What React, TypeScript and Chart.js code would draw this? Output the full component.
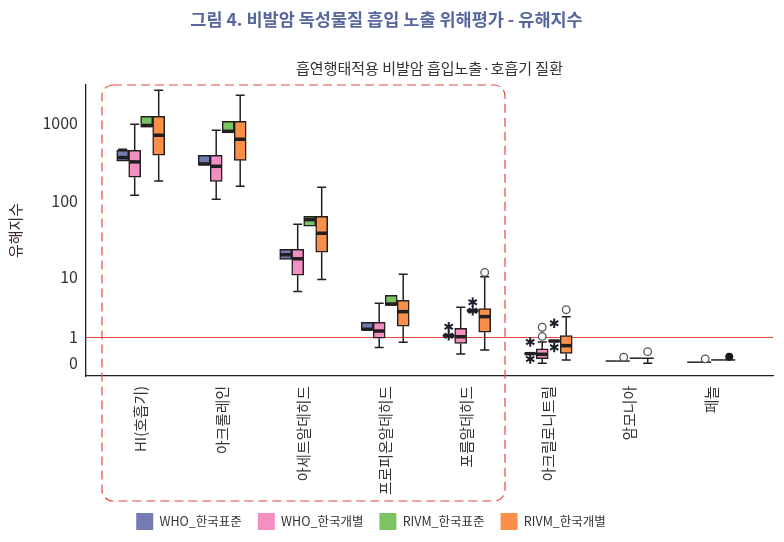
import React, { useEffect, useRef } from 'react';
import { Chart, registerables, Scale } from 'chart.js';

// ---------------- data ----------------
const categories = ['HI(호흡기)', '아크롤레인', '아세트알데히드', '프로피온알데히드', '포름알데히드', '아크릴로니트릴', '암모니아', '페놀'];
const seriesNames = ['WHO_한국표준', 'WHO_한국개별', 'RIVM_한국표준', 'RIVM_한국개별'];
const seriesColors = ['#747ab2', '#f490c1', '#7cc462', '#f98f49'];

// [min, q1, median, q3, max] per category
const whoStandard: (number | null)[][] = [
  [324, 324, 361, 448, 462],
  [288, 288, 299, 387, 387],
  [17.3, 17.3, 19.9, 23.5, 23.5],
  [1.4, 1.4, 1.47, 2.0, 2.0],
  [1.07, 1.07, 1.07, 1.07, 1.07],
  [0.28, 0.28, 0.28, 0.28, 0.28],
  [0.06, 0.06, null, 0.06, 0.06],
  [0.03, 0.03, null, 0.03, 0.03],
];
const whoIndividual: (number | null)[][] = [
  [119, 202, 318, 448, 963],
  [105, 179, 279, 387, 807],
  [6.2, 10.5, 17.6, 23.5, 50],
  [0.51, 0.93, 1.35, 2.0, 4.12],
  [0.27, 0.68, 1.01, 1.54, 3.57],
  [0.0, 0.125, 0.26, 0.45, 0.74],
  [0.06, 0.06, null, 0.06, 0.06],
  [0.03, 0.03, null, 0.03, 0.03],
];
const rivmStandard: (number | null)[][] = [
  [882, 882, 930, 1219, 1219],
  [751, 751, 783, 1051, 1051],
  [47.1, 47.1, 57.4, 63.4, 63.4],
  [3.84, 3.84, 4.02, 5.45, 5.45],
  [3.15, 3.15, 3.15, 3.15, 3.15],
  [0.79, 0.79, 0.79, 0.79, 0.79],
  [0.14, 0.14, null, 0.14, 0.14],
  [0.09, 0.09, null, 0.09, 0.09],
];
const rivmIndividual: (number | null)[][] = [
  [181, 387, 697, 1219, 2619],
  [155, 333, 620, 1051, 2260],
  [9.2, 21.5, 38.2, 63.4, 150],
  [0.73, 1.68, 3.04, 4.58, 10.8],
  [0.41, 1.27, 2.51, 3.4, 10.0],
  [0.09, 0.29, 0.58, 1.07, 2.51],
  [0.0, 0.14, null, 0.14, 0.14],
  [0.09, 0.09, null, 0.09, 0.09],
];

// outliers (circles = outliers, stars = extremes, filled = overlapping outliers)
const whoStandardStars = [[], [], [], [], [1.65, 1.07], [0.74, 0.118], [], []];
const whoIndividualCircles = [[], [], [], [], [], [1.03, 1.61], [0.17], [0.12]];
const rivmStandardStars = [[], [], [], [], [4.28, 3.15], [1.91, 0.51], [], []];
const rivmIndividualCircles = [[], [], [], [], [11.5], [3.27], [0.35], []];
const rivmIndividualFilled = [[], [], [], [], [], [], [], [0.18]];

const yTickValues = [0, 1, 10, 100, 1000];
const referenceValue = 1;
const highlightFrom = 0;
const highlightTo = 4;

const FAMILY = '"Noto Sans CJK KR", "Noto Sans", sans-serif';
const INK = '#231f20';

// -------------- custom scale: log10(v + c) --------------
const OFFSET = 0.85;
const tf = (v: number) => Math.log10(v + OFFSET);

class HazardScale extends Scale {
  static id = 'hazardLog';
  static defaults = {};
  _s = 0;
  _r = 1;
  determineDataLimits() {
    const o: any = this.options;
    this.min = o.min;
    this.max = o.max;
  }
  buildTicks() {
    return yTickValues.map((v) => ({ value: v }));
  }
  getLabelForValue(v: number) {
    return String(v);
  }
  configure() {
    super.configure();
    this._s = tf(this.min);
    this._r = tf(this.max) - tf(this.min);
  }
  getPixelForValue(v: number) {
    if (v === null || v === undefined || isNaN(v)) return NaN;
    return this.getPixelForDecimal((tf(v) - this._s) / this._r);
  }
  getValueForPixel(p: number) {
    return Math.pow(10, this._s + this.getDecimalForPixel(p) * this._r) - OFFSET;
  }
}

Chart.register(...registerables, HazardScale as any);

const statsList = [whoStandard, whoIndividual, rivmStandard, rivmIndividual];
const empty = categories.map(() => [] as number[]);
const starsList = [whoStandardStars, empty, rivmStandardStars, empty];
const circlesList = [empty, whoIndividualCircles, empty, rivmIndividualCircles];
const filledList = [empty, empty, empty, rivmIndividualFilled];

function drawStar(ctx: CanvasRenderingContext2D, x: number, y: number, r: number) {
  ctx.beginPath();
  for (let k = 0; k < 3; k++) {
    const a = Math.PI / 2 + (k * Math.PI) / 3;
    ctx.moveTo(x + r * Math.cos(a), y + r * Math.sin(a));
    ctx.lineTo(x - r * Math.cos(a), y - r * Math.sin(a));
  }
  ctx.stroke();
}

const boxPlugin = {
  id: 'boxDetails',
  afterLayout(chart: any) {
    const lg = chart.legend;
    if (lg) {
      lg.left -= 15.5;
      lg.right -= 15.5;
    }
  },
  beforeDatasetsDraw(chart: any) {
    const { ctx, chartArea, scales } = chart;
    const py = Math.round(scales.y.getPixelForValue(referenceValue)) + 0.5;
    ctx.save();
    ctx.strokeStyle = '#e2473d';
    ctx.lineWidth = 1;
    ctx.beginPath();
    ctx.moveTo(chartArea.left, py);
    ctx.lineTo(chartArea.right, py);
    ctx.stroke();
    ctx.restore();
  },
  afterDatasetsDraw(chart: any) {
    const { ctx, scales } = chart;
    const Y = (v: number) => scales.y.getPixelForValue(v);
    ctx.save();
    statsList.forEach((stats, si) => {
      const meta = chart.getDatasetMeta(si);
      stats.forEach((st, ci) => {
        const bar = meta.data[ci];
        if (!bar) return;
        const cx = bar.x;
        const w = bar.width;
        const [mn, q1, md, q3, mx] = st as number[];
        ctx.strokeStyle = INK;
        ctx.lineWidth = 1.5;
        ctx.beginPath();
        if (mx > q3) {
          ctx.moveTo(cx, Y(q3));
          ctx.lineTo(cx, Y(mx));
          ctx.moveTo(cx - 4.5, Y(mx));
          ctx.lineTo(cx + 4.5, Y(mx));
        }
        if (mn < q1) {
          ctx.moveTo(cx, Y(q1));
          ctx.lineTo(cx, Y(mn));
          ctx.moveTo(cx - 4.5, Y(mn));
          ctx.lineTo(cx + 4.5, Y(mn));
        }
        if (q1 === q3) {
          ctx.moveTo(cx - w / 2, Y(q1));
          ctx.lineTo(cx + w / 2, Y(q1));
        }
        ctx.stroke();
        if (md !== null && md !== undefined) {
          ctx.lineWidth = 3.5;
          ctx.beginPath();
          ctx.moveTo(cx - w / 2 + 0.5, Y(md));
          ctx.lineTo(cx + w / 2 - 0.5, Y(md));
          ctx.stroke();
        }
        // outliers
        ctx.lineWidth = 1.3;
        (circlesList[si][ci] || []).forEach((v: number) => {
          ctx.beginPath();
          ctx.arc(cx, Y(v), 3.8, 0, Math.PI * 2);
          ctx.fillStyle = '#ffffff';
          ctx.fill();
          ctx.strokeStyle = '#555555';
          ctx.stroke();
        });
        (filledList[si][ci] || []).forEach((v: number) => {
          ctx.beginPath();
          ctx.arc(cx, Y(v), 4, 0, Math.PI * 2);
          ctx.fillStyle = '#1a1a1a';
          ctx.fill();
        });
        ctx.strokeStyle = '#1e1e2e';
        ctx.lineWidth = 2;
        (starsList[si][ci] || []).forEach((v: number) => {
          drawStar(ctx, cx, Y(v), 4.8);
        });
      });
    });
    ctx.restore();
  },
  afterDraw(chart: any) {
    const { ctx, chartArea, scales } = chart;
    const l = scales.x.getPixelForValue(highlightFrom - 0.475);
    const r = scales.x.getPixelForValue(highlightTo + 0.47);
    const t = chartArea.top;
    const b = chart.height - 41;
    const rad = 11;
    ctx.save();
    ctx.strokeStyle = '#e8463d';
    ctx.lineWidth = 1.2;
    ctx.setLineDash([9, 5]);
    ctx.beginPath();
    ctx.moveTo(l + rad, t);
    ctx.lineTo(r - rad, t);
    ctx.arcTo(r, t, r, t + rad, rad);
    ctx.lineTo(r, b - rad);
    ctx.arcTo(r, b, r - rad, b, rad);
    ctx.lineTo(l + rad, b);
    ctx.arcTo(l, b, l, b - rad, rad);
    ctx.lineTo(l, t + rad);
    ctx.arcTo(l, t, l + rad, t, rad);
    ctx.closePath();
    ctx.stroke();
    ctx.restore();
  },
};

export default function App() {
  const ref = useRef<HTMLCanvasElement | null>(null);
  useEffect(() => {
    document.body.style.margin = '0';
    document.body.style.overflow = 'hidden';
    if (!ref.current) return;
    const datasets = statsList.map((stats, si) => ({
      label: seriesNames[si],
      data: stats.map((st, ci) => ({ x: ci, y: [st[1] as number, st[3] as number] })),
      backgroundColor: seriesColors[si],
      borderColor: INK,
      borderWidth: 1.5,
      borderSkipped: false,
      barThickness: 12,
    }));
    const chart = new Chart(ref.current, {
      type: 'bar',
      data: { datasets } as any,
      plugins: [boxPlugin as any],
      options: {
        responsive: false,
        animation: false,
        events: [],
        layout: { padding: { top: 0, right: 11, bottom: 2, left: 0 } },
        scales: {
          x: {
            type: 'linear',
            min: -0.671,
            max: 7.758,
            bounds: 'data',
            offset: false,
            grid: { display: false, drawTicks: false },
            border: { display: true, color: INK, width: 1.3 },
            afterBuildTicks: (s: any) => {
              s.ticks = categories.map((_, i) => ({ value: i }));
            },
            afterFit: (s: any) => {
              s.height = 121;
            },
            ticks: {
              autoSkip: false,
              minRotation: 90,
              maxRotation: 90,
              padding: 10,
              font: { size: 14.8, family: FAMILY },
              color: '#333333',
              callback: (v: any) => categories[v] ?? '',
            },
          } as any,
          y: {
            type: 'hazardLog',
            min: -0.264,
            max: 3060,
            position: 'left',
            grid: { display: false, drawTicks: false },
            border: { display: true, color: INK, width: 1.3 },
            afterFit: (s: any) => {
              s.width = 86;
            },
            ticks: { font: { size: 16, family: FAMILY }, color: '#333333', padding: 8 },
            title: {
              display: true,
              text: '유해지수',
              font: { size: 15, family: FAMILY },
              color: '#3a2a30',
              padding: { top: 6, bottom: 0 },
            },
          } as any,
        },
        plugins: {
          title: {
            display: true,
            text: '그림 4. 비발암 독성물질 흡입 노출 위해평가 - 유해지수',
            font: { size: 17.5, weight: 'bold', family: FAMILY },
            color: '#56679f',
            padding: { top: 9, bottom: 20 },
          },
          subtitle: {
            display: true,
            fullSize: false,
            text: '흡연행태적용 비발암 흡입노출·호흡기 질환',
            font: { size: 15, family: FAMILY },
            color: '#333333',
            padding: { top: 9, bottom: 8 },
          },
          legend: {
            position: 'bottom',
            labels: {
              boxWidth: 17,
              boxHeight: 17,
              padding: 16,
              font: { size: 12.5, family: FAMILY },
              color: '#333333',
              generateLabels: (c: any) =>
                (Chart.defaults.plugins.legend.labels as any)
                  .generateLabels(c)
                  .map((l: any) => ({ ...l, lineWidth: 0, strokeStyle: 'rgba(0,0,0,0)' })),
            },
          },
          tooltip: { enabled: false },
        },
      } as any,
    });
    return () => chart.destroy();
  }, []);
  return (
    <div style={{ width: 784, height: 542 }}>
      <canvas ref={ref} width={784} height={542} style={{ display: 'block' }} />
    </div>
  );
}
